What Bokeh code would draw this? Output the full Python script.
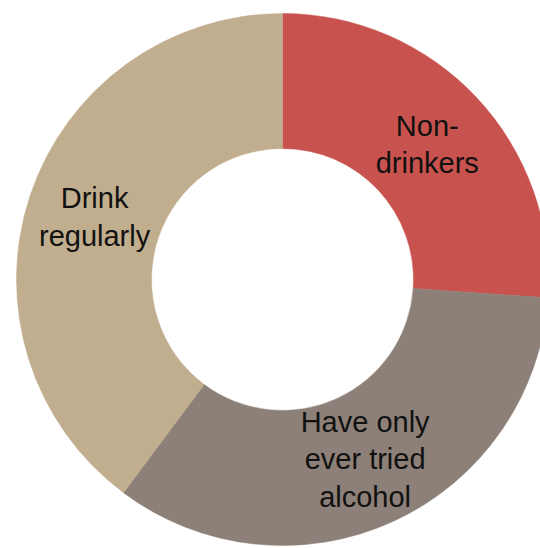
import math
from bokeh.plotting import figure
from bokeh.models import Range1d, ColumnDataSource
from bokeh.core.properties import value
from bokeh.embed import file_html
from bokeh.resources import INLINE

# Data
categories = ["Non-\ndrinkers", "Have only\never tried\nalcohol", "Drink\nregularly"]
shares = [26.1, 34.1, 39.8]
colors = ["#C8524E", "#8C8078", "#C1AE8E"]

# Geometry (in page pixels of the reference)
CX, CY = 282, 279
R_IN, R_OUT = 131, 266
LABEL_R = 198

total = sum(shares)
starts, ends, mids = [], [], []
a = math.pi / 2
for s in shares:
    span = s / total * 2 * math.pi
    starts.append(a)
    ends.append(a - span)
    mids.append(a - span / 2)
    a -= span

src = ColumnDataSource(dict(
    x=[CX] * len(shares), y=[-CY] * len(shares),
    start=starts, end=ends, color=colors,
))

lab = ColumnDataSource(dict(
    x=[CX + LABEL_R * math.cos(m) for m in mids],
    y=[-CY + LABEL_R * math.sin(m) for m in mids],
    text=categories,
))

W, H = 540, 548
p = figure(width=W, height=H, output_backend="svg", toolbar_location=None,
           x_range=Range1d(0, W), y_range=Range1d(-H, 0),
           min_border=0, outline_line_color=None)
p.axis.visible = False
p.grid.visible = False
p.background_fill_color = "white"
p.border_fill_color = "white"

p.annular_wedge(x="x", y="y", inner_radius=R_IN, outer_radius=R_OUT,
                start_angle="start", end_angle="end", direction="clock",
                fill_color="color", line_color="color", line_width=0.5,
                source=src)

p.text(x="x", y="y", text="text", source=lab, text_align="center",
       text_baseline="middle", text_font=value("Liberation Sans"),
       text_font_size="29px", text_color="#111111", text_line_height=1.17)

open("out.html", "w").write(file_html(p, INLINE))
